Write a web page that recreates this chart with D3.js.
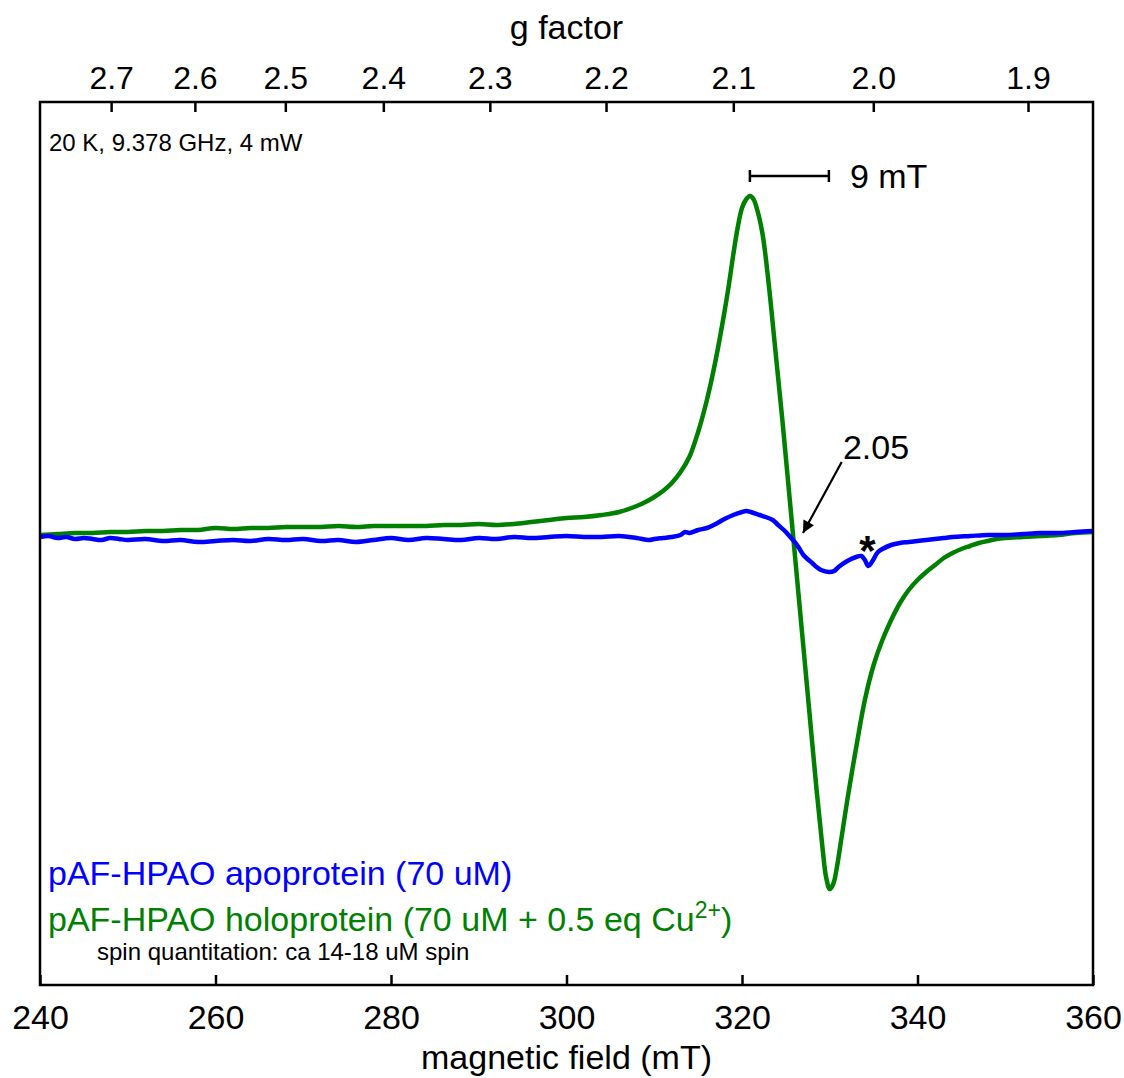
<!DOCTYPE html>
<html><head><meta charset="utf-8">
<script src="https://cdn.jsdelivr.net/npm/d3@7"></script>
<style>body{margin:0;background:#fff}svg{display:block}text{font-family:"Liberation Sans",Arial,sans-serif}</style>
</head><body><svg id="c" width="1124" height="1078"></svg>
<script>
// magnetic field (mT) and EPR intensity (arbitrary units)
const holoField = [240,242,244,246,248,250,252,254,256,258,260,262,264,266,268,270,272,274,276,278,280,282,284,286,288,290,292,294,296,298,300,302,304,306,308,309,310,311,312,313,314,315,316,317,318,318.5,319,319.5,320,320.5,320.9,321.3,321.8,322.3,322.6,323.2,323.8,324.6,325.5,326.5,327.5,328.5,329.2,329.6,330,330.4,330.8,331.3,332,333,334,335,336,337,338,339,340,341,342,343,344,345,346,347,348,349,350,352,354,356,358,360];
const holoSignal = [2,3,4,4,5,5,6,6,7,7,9,8,9,9,10,10,10,11,10,11,11,11,11,12,12,13,12,13,15,17,19,20,22,25,31,35,40,46,54,65,80,105,137,177,225,252,282,309,329,338,341,338,325,305,287,240,187,117,32,-63,-158,-253,-313,-341,-352,-347,-331,-303,-263,-211,-163,-128,-103,-83,-66,-53,-43,-35,-28,-21,-16,-12,-9,-6,-4,-2,-1,0,1,2,4,5];
const apoField = [240,241,242,243,244,245,246,247,248,249,250,252,254,256,258,260,262,264,266,268,270,272,274,276,278,280,282,284,286,288,290,292,294,296,298,300,302,304,306,308,309.4,310,311,312,313,313.5,314,315,316,317,318,319,320,320.5,321,322,322.7,323.5,324,325,325.5,326,326.5,327,328,328.5,329,329.9,330.5,331,332,333,333.6,334,334.4,334.8,335.5,336,337,338,339,340,341,342,343,344,346,348,350,352,354,356,358,360];
const apoSignal = [0,1,-1,0,-2,-1,-2,-3,-1,-2,-3,-2,-4,-3,-5,-4,-3,-4,-2,-3,-2,-4,-3,-5,-3,-1,-3,-1,-2,-3,-1,-2,0,-1,0,1,0,0,1,-1,-3,-2,-1,0,2,5,4,7,9,13,18,22,25,26,25,22,20,17,13,5,0,-5,-11,-18,-26,-30,-33,-35,-34,-30,-24,-20,-19,-23,-29,-25,-15,-12,-8,-6,-5,-4,-3,-2,-1,0,1,2,2,3,4,4,5,6];
const fieldTicks = [240,260,280,300,320,340,360];
const gTicks = [2.7,2.6,2.5,2.4,2.3,2.2,2.1,2.0,1.9];
const freqGHz = 9.378;

const svg = d3.select("#c");
const L=40,R=1093,T=102,B=985;
const x = d3.scaleLinear().domain([240,360]).range([L,R]);
const y = d3.scaleLinear().domain([-448,435]).range([B,T]);
const gToField = g => 71.4477*freqGHz/g;

svg.append("rect").attr("width",1124).attr("height",1078).attr("fill","#fff");

const line = d3.line().x(d=>x(d[0])).y(d=>y(d[1])).curve(d3.curveCatmullRom.alpha(0.5));
const holo = holoField.map((f,i)=>[f,holoSignal[i]]);
const apo = apoField.map((f,i)=>[f,apoSignal[i]]);
svg.append("path").datum(holo).attr("d",line).attr("fill","none").attr("stroke","#008000").attr("stroke-width",4.5).attr("stroke-linejoin","round");
svg.append("path").datum(apo).attr("d",line).attr("fill","none").attr("stroke","#0000ff").attr("stroke-width",4.5).attr("stroke-linejoin","round");

// bottom axis
const xb = svg.append("g").attr("transform",`translate(0,${B})`)
  .call(d3.axisBottom(x).tickValues(fieldTicks).tickSizeInner(-10).tickSizeOuter(0).tickPadding(20));
xb.select(".domain").remove();
xb.selectAll(".tick line").attr("stroke","#000").attr("stroke-width",2.5);
xb.selectAll(".tick text").attr("font-size",34).attr("fill","#000").attr("font-family","Liberation Sans, Arial, sans-serif");

// top axis (g factor)
const xt = svg.append("g").attr("transform",`translate(0,${T})`);
gTicks.forEach(g=>{
  const px = x(gToField(g));
  xt.append("line").attr("x1",px).attr("x2",px).attr("y1",0).attr("y2",10).attr("stroke","#000").attr("stroke-width",2.5);
  xt.append("text").attr("x",px).attr("y",-13).attr("text-anchor","middle").attr("font-size",32).text(g.toFixed(1));
});

// frame
svg.append("rect").attr("x",L).attr("y",T).attr("width",R-L).attr("height",B-T).attr("fill","none").attr("stroke","#000").attr("stroke-width",2.5);

// titles
svg.append("text").attr("x",(L+R)/2).attr("y",1069).attr("text-anchor","middle").attr("font-size",34).text("magnetic field (mT)");
svg.append("text").attr("x",(L+R)/2).attr("y",39).attr("text-anchor","middle").attr("font-size",34).text("g factor");

svg.append("text").attr("x",49).attr("y",151).attr("font-size",24).text("20 K, 9.378 GHz, 4 mW");

// scale bar 9 mT
const sb0=320.9, sb1=329.9, sbY=361;
svg.append("line").attr("x1",x(sb0)).attr("x2",x(sb1)).attr("y1",y(sbY)).attr("y2",y(sbY)).attr("stroke","#000").attr("stroke-width",2.5);
[sb0,sb1].forEach(f=>svg.append("line").attr("x1",x(f)).attr("x2",x(f)).attr("y1",y(sbY)-6).attr("y2",y(sbY)+6).attr("stroke","#000").attr("stroke-width",2.5));
svg.append("text").attr("x",x(332.3)).attr("y",y(sbY)+12).attr("font-size",34).text("9 mT");

// 2.05 arrow
svg.append("defs").append("marker").attr("id","ah").attr("viewBox","0 0 10 10").attr("refX",10).attr("refY",5)
  .attr("markerWidth",16).attr("markerHeight",12).attr("orient","auto").attr("markerUnits","userSpaceOnUse")
  .append("path").attr("d","M0,0L10,5L0,10z").attr("fill","#000");
svg.append("line").attr("x1",x(331.36)).attr("y1",y(75)).attr("x2",x(326.95)).attr("y2",y(4)).attr("stroke","#000").attr("stroke-width",2.2).attr("marker-end","url(#ah)");
svg.append("text").attr("x",x(331.5)).attr("y",y(78)).attr("font-size",34).text("2.05");
svg.append("text").attr("x",x(334.3)).attr("y",y(-28)).attr("text-anchor","middle").attr("font-size",42).attr("font-weight","bold").text("*");

// legend
svg.append("text").attr("x",48).attr("y",885).attr("font-size",34).attr("fill","#0000ff").text("pAF-HPAO apoprotein (70 uM)");
const t2 = svg.append("text").attr("x",48).attr("y",931).attr("font-size",34).attr("fill","#008000");
t2.append("tspan").text("pAF-HPAO holoprotein (70 uM + 0.5 eq Cu");
t2.append("tspan").attr("font-size",23).attr("dy",-13).text("2+");
t2.append("tspan").attr("dy",13).text(")");
svg.append("text").attr("x",97).attr("y",960).attr("font-size",24).text("spin quantitation: ca 14-18 uM spin");
</script></body></html>
